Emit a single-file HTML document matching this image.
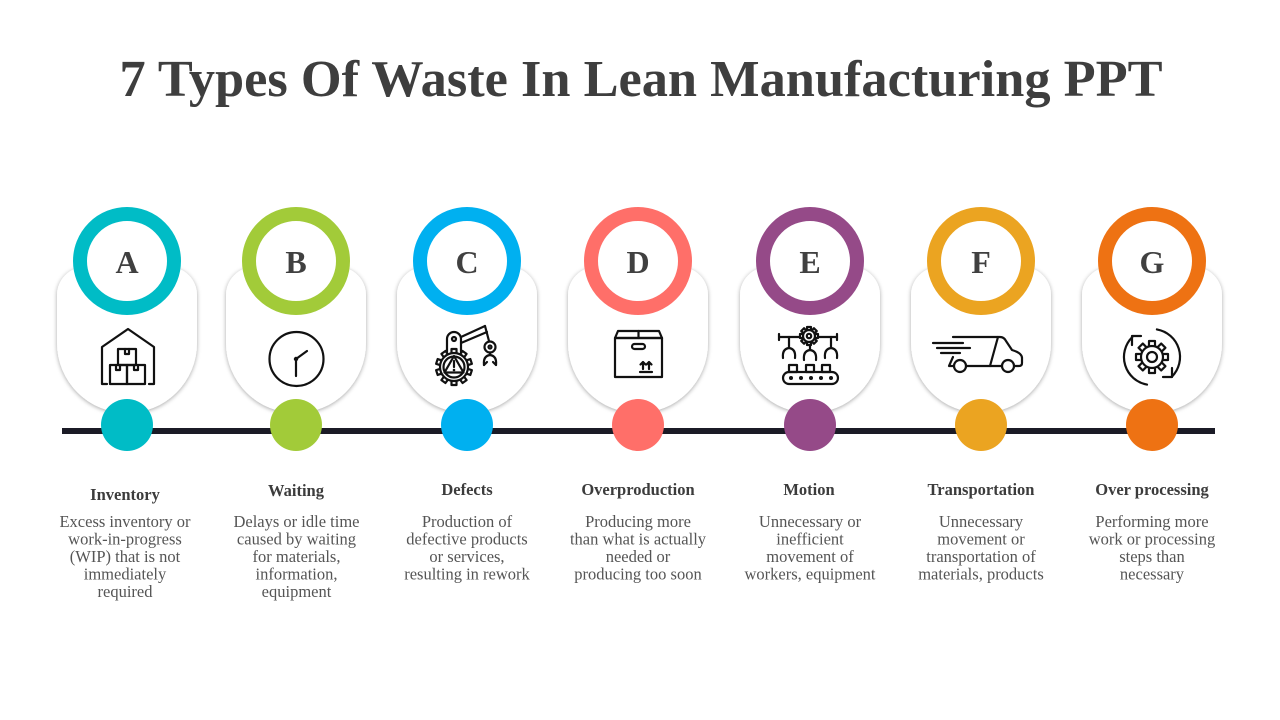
<!DOCTYPE html>
<html>
<head>
<meta charset="utf-8">
<style>
  html,body{margin:0;padding:0;background:#fff;}
  svg{display:block;}
  .ttl{font-family:"Liberation Serif",serif;font-weight:bold;fill:#3e3e3e;}
  .let{font-family:"Liberation Serif",serif;font-weight:bold;font-size:32px;fill:#404040;}
  .hd{font-family:"Liberation Serif",serif;font-weight:bold;font-size:16.5px;fill:#3c3c3c;}
  .bd{font-family:"Liberation Serif",serif;font-size:16.5px;fill:#555;}
  .ic{fill:none;stroke:#111;stroke-width:2.2;stroke-linecap:round;stroke-linejoin:round;}
  .icw{fill:#fff;stroke:#111;stroke-width:2.2;stroke-linejoin:round;}
</style>
</head>
<body>
<svg width="1280" height="720" viewBox="0 0 1280 720" xmlns="http://www.w3.org/2000/svg">
  <defs>
    <filter id="sh" x="-20%" y="-20%" width="140%" height="140%">
      <feDropShadow dx="0" dy="1" stdDeviation="2" flood-color="#000" flood-opacity="0.35"/>
    </filter>
  </defs>
  <rect width="1280" height="720" fill="#fff"/>

  <text class="ttl" x="641" y="96" font-size="52" text-anchor="middle" textLength="1043" lengthAdjust="spacingAndGlyphs">7 Types Of Waste In Lean Manufacturing PPT</text>

  <!-- cards -->
  <g fill="#fff" filter="url(#sh)">
    <path d="M85,267 H169 A28,28 0 0 1 197,295 V343 A70,70 0 0 1 57,343 V295 A28,28 0 0 1 85,267 Z"/>
    <path d="M254,267 H338 A28,28 0 0 1 366,295 V343 A70,70 0 0 1 226,343 V295 A28,28 0 0 1 254,267 Z"/>
    <path d="M425,267 H509 A28,28 0 0 1 537,295 V343 A70,70 0 0 1 397,343 V295 A28,28 0 0 1 425,267 Z"/>
    <path d="M596,267 H680 A28,28 0 0 1 708,295 V343 A70,70 0 0 1 568,343 V295 A28,28 0 0 1 596,267 Z"/>
    <path d="M768,267 H852 A28,28 0 0 1 880,295 V343 A70,70 0 0 1 740,343 V295 A28,28 0 0 1 768,267 Z"/>
    <path d="M939,267 H1023 A28,28 0 0 1 1051,295 V343 A70,70 0 0 1 911,343 V295 A28,28 0 0 1 939,267 Z"/>
    <path d="M1110,267 H1194 A28,28 0 0 1 1222,295 V343 A70,70 0 0 1 1082,343 V295 A28,28 0 0 1 1110,267 Z"/>
  </g>

  <!-- timeline -->
  <rect x="62" y="428" width="1153" height="6" fill="#1b1b26"/>

  <!-- dots -->
  <circle cx="127" cy="425" r="26" fill="#00BCC6"/>
  <circle cx="296" cy="425" r="26" fill="#A2CB39"/>
  <circle cx="467" cy="425" r="26" fill="#00B0F0"/>
  <circle cx="638" cy="425" r="26" fill="#FF6F69"/>
  <circle cx="810" cy="425" r="26" fill="#954A88"/>
  <circle cx="981" cy="425" r="26" fill="#EBA421"/>
  <circle cx="1152" cy="425" r="26" fill="#EE7213"/>

  <!-- rings -->
  <g fill="#fff" stroke-width="14">
    <circle cx="127" cy="261" r="47" stroke="#00BCC6"/>
    <circle cx="296" cy="261" r="47" stroke="#A2CB39"/>
    <circle cx="467" cy="261" r="47" stroke="#00B0F0"/>
    <circle cx="638" cy="261" r="47" stroke="#FF6F69"/>
    <circle cx="810" cy="261" r="47" stroke="#954A88"/>
    <circle cx="981" cy="261" r="47" stroke="#EBA421"/>
    <circle cx="1152" cy="261" r="47" stroke="#EE7213"/>
  </g>
  <g class="let" text-anchor="middle">
    <text x="127" y="273">A</text>
    <text x="296" y="273">B</text>
    <text x="467" y="273">C</text>
    <text x="638" y="273">D</text>
    <text x="810" y="273">E</text>
    <text x="981" y="273">F</text>
    <text x="1152" y="273">G</text>
  </g>

  <!-- Icon A: warehouse -->
  <g class="ic">
    <path d="M107,384 H102 V347 L128,329 L154,347 V384 H149"/>
    <rect x="118" y="349" width="18" height="16"/>
    <rect x="110" y="365" width="17" height="19"/>
    <rect x="127" y="365" width="18" height="19"/>
    <path d="M125,349 V354 H129 V349"/>
    <path d="M116,365 V370 H120 V365"/>
    <path d="M134,365 V370 H138 V365"/>
  </g>

  <!-- Icon B: clock -->
  <g class="ic">
    <circle cx="296.5" cy="359" r="27"/>
    <path d="M296,359 L307,351"/>
    <path d="M296,359 V376"/>
  </g>
  <circle cx="296" cy="359" r="2.2" fill="#111"/>

  <!-- Icon C: robot arm + gear warning -->
  <g>
    <g class="icw" transform="translate(454,367)">
      <rect x="-2.5" y="-18" width="5" height="6" transform="rotate(0)"/>
      <rect x="-2.5" y="-18" width="5" height="6" transform="rotate(36)"/>
      <rect x="-2.5" y="-18" width="5" height="6" transform="rotate(72)"/>
      <rect x="-2.5" y="-18" width="5" height="6" transform="rotate(108)"/>
      <rect x="-2.5" y="-18" width="5" height="6" transform="rotate(144)"/>
      <rect x="-2.5" y="-18" width="5" height="6" transform="rotate(180)"/>
      <rect x="-2.5" y="-18" width="5" height="6" transform="rotate(216)"/>
      <rect x="-2.5" y="-18" width="5" height="6" transform="rotate(252)"/>
      <rect x="-2.5" y="-18" width="5" height="6" transform="rotate(288)"/>
      <rect x="-2.5" y="-18" width="5" height="6" transform="rotate(324)"/>
      <circle cx="0" cy="0" r="14"/>
    </g>
    <g class="ic">
      <circle cx="454" cy="367" r="10.5"/>
      <path d="M454,356 L444.5,372.5 H463.5 Z"/>
      <path d="M454,361 V367"/>
      <path d="M447,352 V339 A7,7 0 0 1 461,339 V352"/>
      <circle cx="454" cy="339" r="2"/>
      <path d="M461,337 L485,326"/>
      <path d="M461,343 L487,332"/>
      <path d="M485,326 L489,341"/>
      <circle cx="490" cy="347" r="5.5"/>
      <circle cx="490" cy="347" r="1.5"/>
      <path d="M490,352.5 V355"/>
      <path d="M484,365 Q483,356 490,355 Q497,356 496,365"/>
      <path d="M484,365 L487,362 M496,365 L493,362"/>
    </g>
    <circle cx="454" cy="370" r="1.3" fill="#111"/>
  </g>

  <!-- Icon D: box -->
  <g class="ic">
    <path d="M618,331 H659 L662,338 H615 Z"/>
    <path d="M638.5,331 V338"/>
    <rect x="615" y="338" width="47" height="39"/>
    <rect x="632" y="344" width="13" height="5" rx="2.5"/>
    <path d="M643,369 V362 M640.5,364.5 L643,362 L645.5,364.5"/>
    <path d="M649,369 V362 M646.5,364.5 L649,362 L651.5,364.5"/>
    <path d="M640,372 H652"/>
  </g>

  <!-- Icon E: conveyor -->
  <g class="ic">
    <path d="M779,337 H799 M779,334 V340"/>
    <path d="M816,337 H837 M837,334 V340"/>
    <path d="M789,337 V347"/>
    <path d="M783,358 Q782,349 789,348 Q796,349 795,358"/>
    <path d="M831,337 V347"/>
    <path d="M825,358 Q824,349 831,348 Q838,349 837,358"/>
    <path d="M810,344 V350"/>
    <path d="M804,360 Q803,351 810,350 Q817,351 816,360"/>
    <rect x="789" y="365" width="8" height="7"/>
    <rect x="806" y="365" width="8" height="7"/>
    <rect x="822" y="365" width="8" height="7"/>
    <rect x="783" y="372" width="55" height="12" rx="6"/>
  </g>
  <g class="icw" transform="translate(809,336)">
    <rect x="-2" y="-9" width="4" height="4" transform="rotate(0)"/>
    <rect x="-2" y="-9" width="4" height="4" transform="rotate(45)"/>
    <rect x="-2" y="-9" width="4" height="4" transform="rotate(90)"/>
    <rect x="-2" y="-9" width="4" height="4" transform="rotate(135)"/>
    <rect x="-2" y="-9" width="4" height="4" transform="rotate(180)"/>
    <rect x="-2" y="-9" width="4" height="4" transform="rotate(225)"/>
    <rect x="-2" y="-9" width="4" height="4" transform="rotate(270)"/>
    <rect x="-2" y="-9" width="4" height="4" transform="rotate(315)"/>
    <circle cx="0" cy="0" r="6"/>
    <circle cx="0" cy="0" r="2.2"/>
  </g>
  <g fill="#111">
    <circle cx="791" cy="378" r="2"/>
    <circle cx="801" cy="378" r="2"/>
    <circle cx="811" cy="378" r="2"/>
    <circle cx="821" cy="378" r="2"/>
    <circle cx="831" cy="378" r="2"/>
  </g>

  <!-- Icon F: truck -->
  <g class="ic">
    <path d="M933,343 H963"/>
    <path d="M937,348 H970"/>
    <path d="M941,353 H960"/>
    <path d="M953,337 H1000 Q1004,337 1006,341 L1012,350 Q1022,353 1022,358 V363 Q1022,366 1019,366 H1015"/>
    <path d="M998,337 L990,366"/>
    <path d="M953,357 L949,366 H953"/>
    <path d="M967,366 H1001"/>
    <circle cx="960" cy="366" r="6"/>
    <circle cx="1008" cy="366" r="6"/>
  </g>

  <!-- Icon G: gear with cycle arrows -->
  <g class="icw" transform="translate(1152,357)">
    <rect x="-3" y="-16" width="6" height="6" transform="rotate(0)"/>
    <rect x="-3" y="-16" width="6" height="6" transform="rotate(45)"/>
    <rect x="-3" y="-16" width="6" height="6" transform="rotate(90)"/>
    <rect x="-3" y="-16" width="6" height="6" transform="rotate(135)"/>
    <rect x="-3" y="-16" width="6" height="6" transform="rotate(180)"/>
    <rect x="-3" y="-16" width="6" height="6" transform="rotate(225)"/>
    <rect x="-3" y="-16" width="6" height="6" transform="rotate(270)"/>
    <rect x="-3" y="-16" width="6" height="6" transform="rotate(315)"/>
    <circle cx="0" cy="0" r="11"/>
    <circle cx="0" cy="0" r="5"/>
  </g>
  <g class="ic">
    <path d="M1147,384.6 A28,28 0 0 1 1132.2,337.2"/>
    <path d="M1132,345 V336 H1141"/>
    <path d="M1156.9,329.4 A28,28 0 0 1 1171.8,376.8"/>
    <path d="M1163,377 H1172 V368"/>
  </g>

  <!-- headings -->
  <g class="hd" text-anchor="middle">
    <text x="125" y="500">Inventory</text>
    <text x="296" y="496">Waiting</text>
    <text x="467" y="495">Defects</text>
    <text x="638" y="495">Overproduction</text>
    <text x="809" y="495">Motion</text>
    <text x="981" y="495">Transportation</text>
    <text x="1152" y="495">Over processing</text>
  </g>

  <!-- body text -->
  <g class="bd" text-anchor="middle">
    <text x="125" y="527">Excess inventory or</text>
    <text x="125" y="544.5">work-in-progress</text>
    <text x="125" y="562">(WIP) that is not</text>
    <text x="125" y="579.5">immediately</text>
    <text x="125" y="597">required</text>

    <text x="296.5" y="527">Delays or idle time</text>
    <text x="296.5" y="544.5">caused by waiting</text>
    <text x="296.5" y="562">for materials,</text>
    <text x="296.5" y="579.5">information,</text>
    <text x="296.5" y="597">equipment</text>

    <text x="467" y="527">Production of</text>
    <text x="467" y="544.5">defective products</text>
    <text x="467" y="562">or services,</text>
    <text x="467" y="579.5">resulting in rework</text>

    <text x="638" y="527">Producing more</text>
    <text x="638" y="544.5">than what is actually</text>
    <text x="638" y="562">needed or</text>
    <text x="638" y="579.5">producing too soon</text>

    <text x="810" y="527">Unnecessary or</text>
    <text x="810" y="544.5">inefficient</text>
    <text x="810" y="562">movement of</text>
    <text x="810" y="579.5">workers, equipment</text>

    <text x="981" y="527">Unnecessary</text>
    <text x="981" y="544.5">movement or</text>
    <text x="981" y="562">transportation of</text>
    <text x="981" y="579.5">materials, products</text>

    <text x="1152" y="527">Performing more</text>
    <text x="1152" y="544.5">work or processing</text>
    <text x="1152" y="562">steps than</text>
    <text x="1152" y="579.5">necessary</text>
  </g>
</svg>
</body>
</html>
